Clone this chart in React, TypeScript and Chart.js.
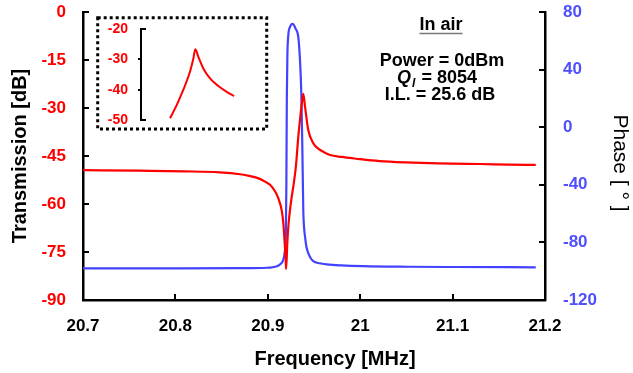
import React, { useEffect, useRef } from 'react';
import { Chart, registerables } from 'chart.js';
Chart.register(...registerables);

const FONT = "'Liberation Sans', Arial, Helvetica, sans-serif";
Chart.defaults.font.family = FONT;

const RED = '#FF0000';
const BLUE = 'rgb(66,66,255)';
const BLUE_TEXT = '#4F4FFF';

// Transmission (dB) vs frequency (MHz)
const transFreq = [20.700, 20.760, 20.810, 20.848, 20.870, 20.881, 20.890, 20.897, 20.9024, 20.9078, 20.9114, 20.9150, 20.9168, 20.9183, 20.9194, 20.9198, 20.9211, 20.9222, 20.9240, 20.9259, 20.9276, 20.9305, 20.9330, 20.9348, 20.9373, 20.9384, 20.9403, 20.9438, 20.9492, 20.9550, 20.9601, 20.9673, 20.980, 20.989, 21.000, 21.021, 21.050, 21.076, 21.100, 21.130, 21.160, 21.190];
const transDb = [-49.4, -49.6, -49.8, -50.1, -50.7, -51.3, -52.0, -53.0, -54.0, -56.0, -58.2, -61.9, -66.0, -72.3, -77.5, -80.3, -72.3, -67.1, -61.9, -57.7, -54.6, -48.0, -39.0, -33.8, -27.5, -25.6, -29.6, -36.9, -41.0, -42.8, -43.7, -44.7, -45.3, -45.6, -46.0, -46.6, -47.0, -47.2, -47.4, -47.5, -47.7, -47.8];

// Phase (deg) vs frequency (MHz)
const phaseFreq = [20.700, 20.800, 20.870, 20.899, 20.910, 20.9135, 20.9165, 20.9185, 20.9195, 20.9201, 20.9206, 20.9212, 20.9222, 20.9240, 20.9269, 20.9300, 20.9330, 20.9348, 20.9362, 20.9373, 20.9384, 20.9393, 20.9403, 20.9418, 20.9438, 20.9465, 20.9492, 20.956, 20.964, 20.980, 21.003, 21.050, 21.100, 21.190];
const phaseDeg = [-98.0, -98.0, -97.9, -97.6, -96.5, -95.2, -92.5, -86.0, -75.0, -40.0, 20.0, 50.0, 64.0, 69.5, 71.7, 68.5, 62.5, 47.0, 25.0, -11.0, -57.5, -70.0, -76.0, -83.0, -87.4, -91.0, -93.0, -94.5, -95.3, -96.0, -96.5, -96.9, -97.1, -97.3];

// Inset: zoom on the transmission peak
const insetFreq = [20.9195, 20.9240, 20.9284, 20.9329, 20.9352, 20.9365, 20.9385, 20.9419, 20.9464, 20.9520, 20.9576, 20.9625];
const insetDb = [-49.4, -45.1, -40.1, -34.1, -29.7, -26.7, -29.1, -33.0, -36.3, -38.8, -40.7, -42.1];

const xTicks = [20.7, 20.8, 20.9, 21.0, 21.1, 21.2];
const xTickLabels = ['20.7', '20.8', '20.9', '21', '21.1', '21.2'];
const yTicks = [0, -15, -30, -45, -60, -75, -90];
const y1Ticks = [80, 40, 0, -40, -80, -120];
const insetTicks = [-20, -30, -40, -50];

const insideTicks = {
  id: 'insideTicks',
  afterDraw(chart: any) {
    const { ctx, chartArea: a, scales } = chart;
    ctx.save();
    ctx.strokeStyle = '#000';
    ctx.lineWidth = 2;
    const L = 6;
    ctx.beginPath();
    scales.y.ticks.forEach((t: any) => {
      const p = Math.round(scales.y.getPixelForValue(t.value));
      ctx.moveTo(a.left, p);
      ctx.lineTo(a.left + L, p);
    });
    scales.y1.ticks.forEach((t: any) => {
      const p = Math.round(scales.y1.getPixelForValue(t.value));
      ctx.moveTo(a.right, p);
      ctx.lineTo(a.right - L, p);
    });
    scales.x.ticks.forEach((t: any) => {
      const p = Math.round(scales.x.getPixelForValue(t.value));
      ctx.moveTo(p, a.bottom);
      ctx.lineTo(p, a.bottom - L);
    });
    ctx.stroke();
    ctx.restore();
  },
};

const annotations = {
  id: 'annotations',
  afterDraw(chart: any) {
    const ctx = chart.ctx;
    ctx.save();
    ctx.fillStyle = '#000';
    ctx.textBaseline = 'alphabetic';
    ctx.textAlign = 'center';
    ctx.font = `bold 18px ${FONT}`;
    ctx.fillText('In air', 441, 30);
    const w = ctx.measureText('In air').width;
    ctx.strokeStyle = '#777';
    ctx.lineWidth = 1.5;
    ctx.beginPath();
    ctx.moveTo(441 - w / 2, 33.5);
    ctx.lineTo(441 + w / 2, 33.5);
    ctx.stroke();
    ctx.fillText('Power = 0dBm', 442, 66);
    ctx.fillText('I.L. = 25.6 dB', 440, 100);
    // Q_l line
    ctx.textAlign = 'left';
    const qFont = `italic bold 18px ${FONT}`;
    const sFont = `italic bold 12px ${FONT}`;
    const rFont = `bold 18px ${FONT}`;
    ctx.font = qFont; const wq = ctx.measureText('Q').width;
    ctx.font = sFont; const ws = ctx.measureText('l').width;
    ctx.font = rFont; const wr = ctx.measureText(' = 8054').width;
    const total = wq + ws + 2 + wr;
    let x = 437 - total / 2;
    ctx.font = qFont; ctx.fillText('Q', x, 83); x += wq + 1;
    ctx.font = sFont; ctx.fillText('l', x, 87); x += ws + 1;
    ctx.font = rFont; ctx.fillText(' = 8054', x, 83);
    // x-axis title
    ctx.textAlign = 'center';
    ctx.textBaseline = 'middle';
    ctx.font = `bold 20px ${FONT}`;
    ctx.fillText('Frequency [MHz]', 335, 359);
    // right-axis title
    ctx.save();
    ctx.translate(620, 163);
    ctx.rotate(Math.PI / 2);
    ctx.font = `21px ${FONT}`;
    ctx.fillText('Phase [ ° ]', 0, 0);
    ctx.restore();
    ctx.restore();
  },
};

const insetDecor = {
  id: 'insetDecor',
  beforeDraw(chart: any) {
    const ctx = chart.ctx;
    ctx.save();
    ctx.fillStyle = '#fff';
    ctx.fillRect(0, 0, chart.width, chart.height);
    ctx.strokeStyle = '#000';
    ctx.lineWidth = 3;
    ctx.setLineDash([3, 3]);
    ctx.strokeRect(7.7, 7.7, 169, 111.3);
    ctx.restore();
  },
  afterDraw(chart: any) {
    const { ctx, chartArea: a, scales } = chart;
    ctx.save();
    ctx.strokeStyle = '#000';
    ctx.lineWidth = 2;
    ctx.beginPath();
    const n = scales.y.ticks.length;
    scales.y.ticks.forEach((t: any, i: number) => {
      const p = Math.round(scales.y.getPixelForValue(t.value));
      if (i === 0 || i === n - 1) {
        ctx.moveTo(a.left, p);
        ctx.lineTo(a.left + 5, p);
      } else {
        ctx.moveTo(a.left - 3, p);
        ctx.lineTo(a.left, p);
      }
    });
    ctx.stroke();
    ctx.restore();
  },
};

const fixWidth = (w: number) => (s: any) => {
  s.width = w;
  s.paddingTop = 0;
  s.paddingBottom = 0;
};

export default function App() {
  const mainRef = useRef<HTMLCanvasElement>(null);
  const insetRef = useRef<HTMLCanvasElement>(null);

  useEffect(() => {
    const main = new Chart(mainRef.current as HTMLCanvasElement, {
      type: 'scatter',
      data: {
        datasets: [
          {
            label: 'Transmission',
            data: transFreq.map((f, i) => ({ x: f, y: transDb[i] })),
            yAxisID: 'y',
            borderColor: RED,
            backgroundColor: RED,
            borderWidth: 2.2,
            showLine: true,
            pointRadius: 0,
            tension: 0.4,
            cubicInterpolationMode: 'monotone',
            fill: false,
          },
          {
            label: 'Phase',
            data: phaseFreq.map((f, i) => ({ x: f, y: phaseDeg[i] })),
            yAxisID: 'y1',
            borderColor: BLUE,
            backgroundColor: BLUE,
            borderWidth: 2.2,
            showLine: true,
            pointRadius: 0,
            tension: 0.4,
            cubicInterpolationMode: 'monotone',
            fill: false,
          },
        ],
      },
      options: {
        responsive: false,
        animation: false,
        devicePixelRatio: 1,
        layout: { padding: { top: 12, left: 0, right: 0, bottom: 0 }, autoPadding: false },
        plugins: { legend: { display: false }, tooltip: { enabled: false } },
        scales: {
          x: {
            type: 'linear',
            min: 20.7,
            max: 21.2,
            grid: { display: false, drawTicks: false },
            border: { display: true, color: '#000', width: 2.5 },
            ticks: {
              color: '#000',
              font: { size: 17, weight: 'bold' },
              padding: 16,
              maxRotation: 0,
              autoSkip: false,
              callback: (_v: any, i: number) => xTickLabels[i],
            },
            afterBuildTicks: (s: any) => { s.ticks = xTicks.map((v) => ({ value: v })); },
            afterFit: (s: any) => { s.height = 73; s.paddingLeft = 0; s.paddingRight = 0; },
          },
          y: {
            type: 'linear',
            position: 'left',
            min: -90,
            max: 0,
            grid: { display: false, drawTicks: false },
            border: { display: true, color: '#000', width: 2.5 },
            ticks: { color: RED, font: { size: 17, weight: 'bold' }, padding: 17, autoSkip: false },
            afterBuildTicks: (s: any) => { s.ticks = yTicks.map((v) => ({ value: v })); },
            afterFit: fixWidth(83),
            title: {
              display: true,
              text: 'Transmission [dB]',
              color: '#000',
              font: { size: 20, weight: 'bold' },
              padding: { top: 8, bottom: 0 },
            },
          },
          y1: {
            type: 'linear',
            position: 'right',
            min: -120,
            max: 80,
            grid: { display: false, drawTicks: false },
            border: { display: true, color: '#000', width: 2.5 },
            ticks: { color: BLUE_TEXT, font: { size: 17, weight: 'bold' }, padding: 18, autoSkip: false },
            afterBuildTicks: (s: any) => { s.ticks = y1Ticks.map((v) => ({ value: v })); },
            afterFit: fixWidth(88),
          },
        },
      },
      plugins: [insideTicks, annotations],
    } as any);

    const inset = new Chart(insetRef.current as HTMLCanvasElement, {
      type: 'scatter',
      data: {
        datasets: [
          {
            label: 'Inset',
            data: insetFreq.map((f, i) => ({ x: f, y: insetDb[i] })),
            borderColor: RED,
            backgroundColor: RED,
            borderWidth: 2,
            showLine: true,
            pointRadius: 0,
            tension: 0.4,
            cubicInterpolationMode: 'monotone',
            fill: false,
          },
        ],
      },
      options: {
        responsive: false,
        animation: false,
        devicePixelRatio: 1,
        layout: { padding: { top: 19, left: 0, right: 10, bottom: 15 }, autoPadding: false },
        plugins: { legend: { display: false }, tooltip: { enabled: false } },
        scales: {
          x: { type: 'linear', min: 20.90, max: 20.98, display: false },
          y: {
            type: 'linear',
            position: 'left',
            min: -50,
            max: -20,
            grid: { display: false, drawTicks: false },
            border: { display: true, color: '#000', width: 2 },
            ticks: { color: RED, font: { size: 14, weight: 'bold' }, padding: 13, autoSkip: false },
            afterBuildTicks: (s: any) => { s.ticks = insetTicks.map((v) => ({ value: v })); },
            afterFit: fixWidth(51),
          },
        },
      },
      plugins: [insetDecor],
    } as any);

    return () => {
      main.destroy();
      inset.destroy();
    };
  }, []);

  return (
    <div style={{ position: 'fixed', left: 0, top: 0, width: 633, height: 373, background: '#fff' }}>
      <canvas ref={mainRef} width={633} height={373} style={{ position: 'absolute', left: 0, top: 0, width: 633, height: 373 }} />
      <canvas ref={insetRef} width={180} height={125} style={{ position: 'absolute', left: 90, top: 10, width: 180, height: 125 }} />
    </div>
  );
}
